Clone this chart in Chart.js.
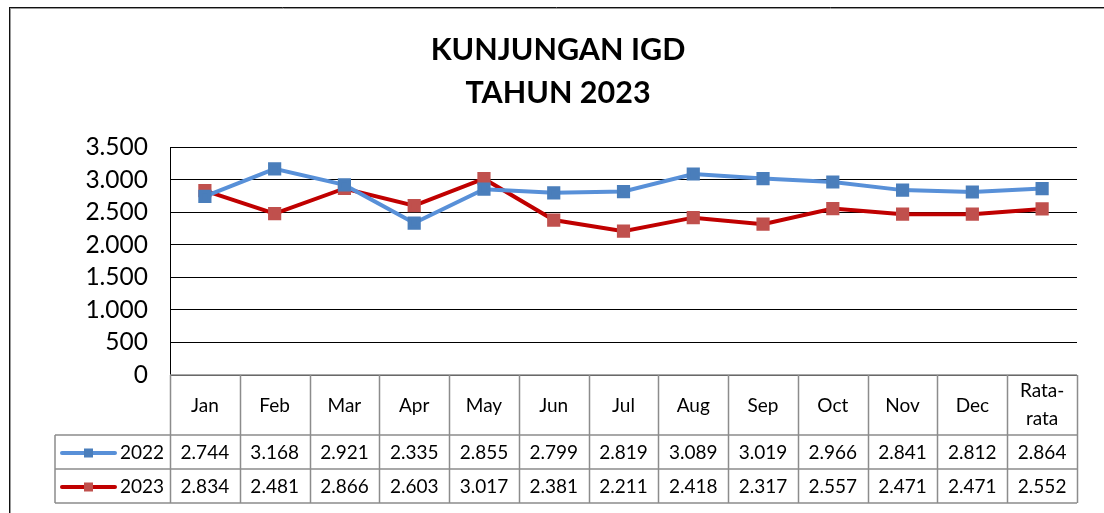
<!DOCTYPE html>
<html>
<head>
<meta charset="utf-8">
<script src="https://cdn.jsdelivr.net/npm/chart.js@4/dist/chart.umd.min.js"></script>
<style>
  html, body { margin: 0; padding: 0; background: #fff; }
  #wrap { width: 1104px; height: 513px; }
</style>
</head>
<body>
<div id="wrap"><canvas id="igdChart" width="1104" height="513"></canvas></div>
<script>
// data ---------------------------------------------
const months = ['Jan', 'Feb', 'Mar', 'Apr', 'May', 'Jun', 'Jul', 'Aug', 'Sep', 'Oct', 'Nov', 'Dec', ['Rata-', 'rata']];
const visits2022 = [2744, 3168, 2921, 2335, 2855, 2799, 2819, 3089, 3019, 2966, 2841, 2812, 2864];
const visits2023 = [2834, 2481, 2866, 2603, 3017, 2381, 2211, 2418, 2317, 2557, 2471, 2471, 2552];
const seriesNames = ['2022', '2023'];
const yMax = 3500;
const yStep = 500;

const FONT = 'Lato, "Noto Sans", sans-serif';
const fmt = v => String(v).replace(/\B(?=(\d{3})+(?!\d))/g, '.');

// outer frame like the excel chart box
const framePlugin = {
  id: 'frame',
  beforeDraw(chart) {
    const c = chart.ctx;
    c.save();
    c.fillStyle = '#fff';
    c.fillRect(0, 0, chart.width, chart.height);
    c.strokeStyle = '#111';
    c.lineWidth = 1;
    c.beginPath();
    c.moveTo(9, 7.5); c.lineTo(chart.width, 7.5);
    c.moveTo(9.5, 7); c.lineTo(9.5, chart.height);
    c.stroke();
    c.strokeStyle = '#999';
    c.beginPath();
    c.moveTo(10, 8.5); c.lineTo(chart.width, 8.5);
    c.moveTo(10.5, 8); c.lineTo(10.5, chart.height);
    c.stroke();
    c.restore();
  }
};

// data table under the plot
const tablePlugin = {
  id: 'dataTable',
  afterDraw(chart) {
    const c = chart.ctx;
    const area = chart.chartArea;
    const n = months.length;
    const w = (area.right - area.left) / n;
    const top = area.bottom;
    const headBottom = top + 60;
    const rowH = 34;
    const keyLeft = 55;

    c.save();
    c.strokeStyle = '#8c8c8c';
    c.lineWidth = 1.5;
    c.beginPath();
    // header row
    c.moveTo(area.left, top); c.lineTo(area.right, top);
    for (let i = 0; i <= n; i++) {
      const x = Math.round(area.left + i * w) + 0.5;
      c.moveTo(x, top); c.lineTo(x, headBottom + rowH * 2);
    }
    // series rows
    for (let r = 0; r <= 2; r++) {
      const y = headBottom + r * rowH;
      c.moveTo(keyLeft, y); c.lineTo(area.right, y);
    }
    c.moveTo(keyLeft, headBottom); c.lineTo(keyLeft, headBottom + rowH * 2);
    c.stroke();

    c.fillStyle = '#000';
    c.textAlign = 'center';
    c.textBaseline = 'middle';
    c.font = '19px ' + FONT;
    months.forEach((m, i) => {
      const cx = chart.scales.x.getPixelForValue(i);
      if (Array.isArray(m)) {
        c.fillText(m[0], cx, top + 16);
        c.fillText(m[1], cx, top + 44);
      } else {
        c.fillText(m, cx, top + 31);
      }
    });

    chart.data.datasets.forEach((ds, r) => {
      const cy = headBottom + r * rowH + rowH / 2 + 1;
      // legend key
      c.strokeStyle = ds.borderColor;
      c.lineWidth = 4;
      c.lineCap = 'round';
      c.beginPath();
      c.moveTo(62, cy); c.lineTo(115, cy);
      c.stroke();
      c.fillStyle = ds.pointBackgroundColor;
      c.fillRect(84, cy - 4.5, 9, 9);
      c.fillStyle = '#000';
      c.textAlign = 'left';
      c.fillText(seriesNames[r], 120, cy);
      c.textAlign = 'center';
      ds.data.forEach((v, i) => {
        c.fillText(fmt(v), chart.scales.x.getPixelForValue(i), cy);
      });
    });
    c.restore();
  }
};

const ctx = document.getElementById('igdChart');

new Chart(ctx, {
  type: 'line',
  data: {
    labels: months,
    datasets: [{
      label: seriesNames[0],
      data: visits2022,
      borderColor: '#5890D8',
      borderWidth: 4,
      pointStyle: 'rect',
      pointRadius: 6.5,
      pointBackgroundColor: '#4A7EBB',
      pointBorderColor: '#4A7EBB',
      tension: 0,
    }, {
      label: seriesNames[1],
      data: visits2023,
      borderColor: '#C00000',
      borderWidth: 4,
      pointStyle: 'rect',
      pointRadius: 6.5,
      pointBackgroundColor: '#C0504D',
      pointBorderColor: '#C0504D',
      tension: 0,
    }]
  },
  plugins: [framePlugin, tablePlugin],
  options: {
    responsive: false,
    animation: false,
    layout: {
      padding: { left: 39, right: 27, top: 0, bottom: 138 }
    },
    plugins: {
      legend: { display: false },
      tooltip: { enabled: false },
      title: {
        display: true,
        text: ['KUNJUNGAN IGD', 'TAHUN 2023'],
        color: '#000',
        font: { family: FONT, size: 30.5, weight: 'bold', lineHeight: 1.43 },
        padding: { top: 28, bottom: 32 }
      }
    },
    scales: {
      x: {
        display: false,
        offset: true,
      },
      y: {
        min: 0,
        max: yMax,
        afterFit(scale) { scale.width = 131; },
        border: { display: true, color: '#000', width: 1 },
        grid: {
          color: '#000',
          lineWidth: 1,
          drawTicks: false,
        },
        ticks: {
          stepSize: yStep,
          padding: 22,
          color: '#000',
          font: { family: FONT, size: 24.5 },
          callback: v => fmt(v)
        }
      }
    }
  }
});
</script>
</body>
</html>
